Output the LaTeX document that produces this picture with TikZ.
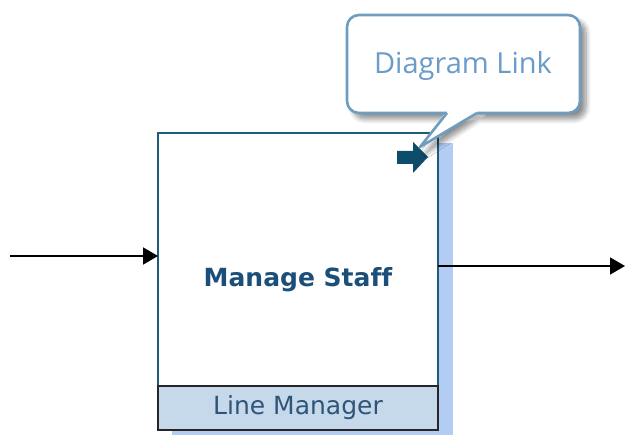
\documentclass[tikz,border=0pt]{standalone}
\usepackage{fontspec}
\setmainfont[Ligatures={NoCommon}]{DejaVu Sans}
\newfontfamily\calloutfont{Open Sans}
\usetikzlibrary{arrows.meta,shadows.blur}
\definecolor{shadowblue}{HTML}{B3CCF4}
\definecolor{boxborder}{HTML}{1F5C7A}
\definecolor{titleblue}{HTML}{1B4F7A}
\definecolor{lanefill}{HTML}{C6D9EA}
\definecolor{lanetext}{HTML}{2F5478}
\definecolor{calloutborder}{HTML}{6E9DC0}
\definecolor{callouttext}{HTML}{6A9BC9}
\definecolor{iconblue}{HTML}{0E4C6C}
\tikzset{
  procbox/.style={draw=boxborder, line width=1.4pt, fill=white, inner sep=0pt, outer sep=0pt},
  lanebox/.style={draw=black!85, line width=1.4pt, fill=lanefill, inner sep=0pt, outer sep=0pt,
     text=lanetext, font=\fontsize{25}{27}\selectfont},
  titletext/.style={text=titleblue, font=\fontsize{25}{27}\selectfont\bfseries},
  calloutline/.style={draw=calloutborder, line width=2.6pt},
  calloutlabel/.style={text=callouttext, font=\calloutfont\fontsize{29}{31}\selectfont},
  flow/.style={draw=black, line width=1.7pt, -{Triangle[length=15pt,width=17pt]}},
}
\begin{document}
\begin{tikzpicture}[x=1pt,y=-1pt]
\useasboundingbox (0,0) rectangle (626,435);
% box shadow
\fill[shadowblue] (172,143) rectangle (453,435);
% main box
\node[procbox, minimum width=280pt, minimum height=297pt, anchor=north west] (box) at (158,133) {};
\node[lanebox, minimum width=280pt, minimum height=44pt, anchor=south west] (lane) at (box.south west) {\raisebox{-2pt}{Line Manager}};
\node[titletext] (title) at (298,280) {Manage Staff};
% link icon
\fill[iconblue] (397,151) -- (413,151) -- (413,142) -- (428,157) -- (413,173) -- (413,164) -- (397,164) -- cycle;
% flows
\coordinate (inStart) at (10,256);
\coordinate (outEnd) at (625,266);
\draw[flow] (inStart) -- (inStart -| box.west);
\draw[flow] (outEnd -| box.east) -- (outEnd);
% callout
\path[fill=white, blur shadow={shadow xshift=6pt, shadow yshift=-6pt, shadow blur steps=8, shadow blur radius=5pt, shadow opacity=45}]
  [rounded corners=12pt] (347,15) rectangle (580,113)
  [sharp corners] (447,110) -- (420,147) -- (477,110) -- cycle;
\draw[calloutline, rounded corners=12pt] (347,15) rectangle (580,113);
\fill[white] (447,110) -- (447,113) -- (420,147) -- (477,113) -- (477,110) -- cycle;
\draw[calloutline, line join=round] (447,113) -- (420,147) -- (477,113);
\node[calloutlabel] (link) at (463,66) {Diagram Link};
\end{tikzpicture}
\end{document}
